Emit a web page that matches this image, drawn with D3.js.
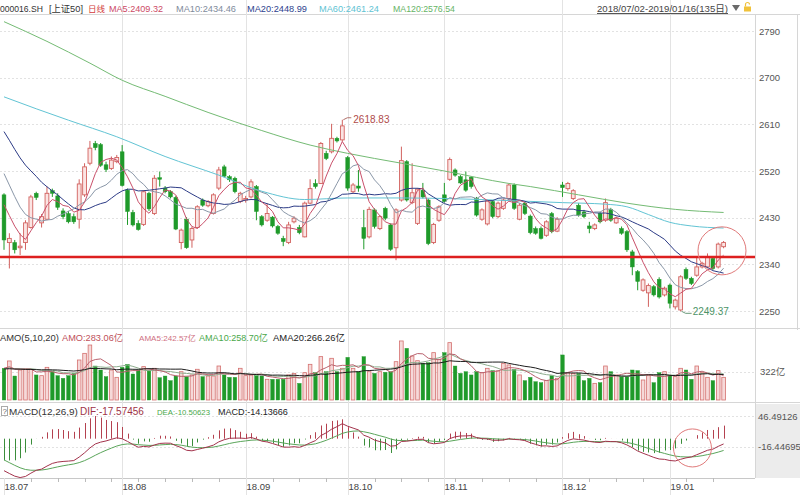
<!DOCTYPE html>
<html>
<head>
<meta charset="utf-8">
<script src="https://cdn.jsdelivr.net/npm/d3@7"></script>
<style>
  body { margin: 0; background: #fff; }
  svg { display: block; font-family: "Liberation Sans", "Noto Sans CJK SC", sans-serif; }
</style>
</head>
<body>
<svg id="chart" width="800" height="495"></svg>
<script>
// ---- data (000016.SH daily, 2018/07/02 - 2019/01/16) ----
const opens = [2474,2382,2382,2372,2382,2411,2477,2420,2427,2482,2472,2443,2438,2432,2427,2474,2535,2573,2571,2532,
  2525,2538,2557,2483,2440,2419,2417,2477,2438,2507,2487,2480,2469,2382,2427,2387,2411,2464,2453,2438,
  2487,2528,2509,2506,2461,2464,2470,2490,2432,2425,2431,2413,2390,2382,2422,2411,2393,2458,2496,2496,
  2554,2557,2583,2580,2546,2480,2491,2411,2393,2445,2409,2448,2416,2372,2464,2538,2459,2419,2483,2464,
  2382,2425,2474,2504,2522,2509,2503,2508,2467,2427,2418,2461,2432,2448,2467,2493,2427,2458,2433,2409,
  2409,2396,2438,2404,2493,2486,2467,2454,2441,2414,2409,2438,2425,2446,2420,2409,2403,2364,2326,2290,
  2285,2297,2311,2281,2300,2258,2252,2330,2313,2319,2335,2335,2351,2335,2374];
const highs = [2477,2400,2387,2400,2425,2474,2480,2437,2490,2486,2477,2448,2443,2438,2504,2535,2578,2578,2574,2538,
  2548,2551,2570,2486,2445,2425,2483,2480,2512,2519,2491,2483,2472,2409,2431,2413,2454,2467,2464,2477,
  2528,2532,2512,2509,2480,2472,2504,2493,2435,2458,2433,2416,2395,2422,2433,2416,2461,2504,2504,2576,
  2559,2611,2586,2618.83,2549,2497,2522,2445,2451,2448,2435,2451,2419,2448,2567,2541,2535,2487,2497,2467,
  2420,2454,2497,2546,2525,2512,2519,2510,2470,2448,2465,2464,2461,2467,2496,2496,2458,2461,2436,2413,
  2413,2425,2441,2431,2499,2499,2485,2458,2445,2422,2419,2441,2467,2449,2432,2413,2406,2368,2329,2313,
  2303,2300,2315,2297,2303,2274,2319,2334,2316,2356,2345,2361,2355,2382,2385];
const lows = [2368,2332,2361,2358,2368,2409,2464,2411,2425,2470,2445,2427,2419,2418,2409,2470,2531,2560,2528,2518,
  2522,2535,2490,2416,2413,2405,2414,2443,2435,2490,2477,2467,2406,2369,2370,2372,2409,2451,2450,2436,
  2483,2508,2499,2477,2458,2459,2467,2425,2413,2422,2411,2397,2375,2379,2419,2398,2392,2456,2486,2495,
  2541,2554,2575,2577,2482,2477,2480,2369,2390,2409,2406,2425,2366,2348,2461,2461,2456,2416,2467,2377,
  2379,2422,2458,2501,2509,2495,2480,2486,2432,2424,2415,2429,2429,2445,2464,2445,2425,2435,2398,2397,
  2388,2393,2400,2402,2470,2482,2464,2432,2429,2400,2406,2419,2422,2422,2418,2397,2364,2319,2290,2287,
  2258,2278,2274,2278,2255,2253,2249.37,2310,2300,2316,2332,2332,2329,2332,2371];
const closes = [2387,2390,2368,2375,2420,2470,2469,2432,2477,2477,2450,2432,2422,2422,2495,2528,2564,2565,2531,2523,
  2541,2546,2492,2442,2416,2407,2480,2447,2506,2504,2480,2470,2408,2406,2372,2409,2451,2454,2461,2474,
  2522,2510,2503,2480,2477,2467,2499,2442,2416,2438,2414,2400,2384,2416,2429,2401,2458,2486,2490,2573,
  2544,2583,2578,2607,2487,2493,2487,2390,2446,2413,2432,2429,2369,2445,2540,2464,2478,2485,2470,2380,
  2417,2451,2461,2542,2512,2497,2483,2490,2435,2445,2462,2432,2458,2464,2493,2448,2454,2438,2401,2400,
  2390,2422,2403,2427,2488,2496,2482,2435,2432,2409,2416,2422,2459,2425,2429,2400,2368,2335,2307,2310,
  2299,2281,2277,2294,2265,2271,2316,2313,2303,2335,2342,2353,2332,2379,2382];
// turnover, 亿
const volumes = [358,441,271,339,347,347,283,275,369,320,275,245,275,301,452,527,621,384,339,264,
  339,256,369,403,294,339,377,332,358,252,271,219,271,320,264,283,347,264,271,271,
  384,283,256,256,358,275,283,275,271,234,234,234,234,283,301,188,309,403,309,490,
  320,471,320,358,482,358,320,490,320,301,320,313,320,433,667,584,497,444,414,422,
  535,460,535,648,384,301,320,283,320,309,358,332,328,414,396,347,283,219,256,207,
  196,219,275,245,509,309,301,301,219,245,188,196,384,320,283,264,264,339,332,226,
  275,196,309,320,283,264,358,339,234,384,309,256,219,332,256];
// sessions before the window, needed by the moving averages
const preCloses = [2725,2718,2705,2700,2690,2680,2660,2650,2640,2602,2612,2590,2578,2560,2535,2495,2470,2455,2468];
const preVolumes = [380,360,340,420,350,330,310,360,340,300,330,350,380,340,320,360,400,350,330];
const macdInit = { ema12: 2548, ema26: 2605, dea: -38 };
// long averages read at sample sessions [index, value]
const ma60Pts = [[0,2663],[6,2640],[12,2618],[21,2586],[30,2548],[40,2512],[48,2481],[56,2465],[64,2468],[74,2468],
  [82,2467],[94,2463],[104,2459],[112,2456],[116,2451],[120,2436],[124,2421],[128,2414],[134,2410]];
const ma120Pts = [[0,2808],[8,2770],[16,2728],[22,2695],[30,2664],[38,2633],[48,2598],[57,2570],[64,2554],[74,2535],
  [82,2520],[94,2496],[98,2490],[107,2474],[116,2458],[125,2446],[134,2440]];

const priceTicks = [2250, 2340, 2430, 2520, 2610, 2700, 2790];
const volTicks = [322];
const macdTicks = [46.49126, -16.44695];
const monthStarts = [0, 22, 45, 64, 82, 104, 124];
const monthLabels = ['18.07', '18.08', '18.09', '18.10', '18.11', '18.12', '19.01'];
const weekStarts = [5,10,15,20,25,30,35,40,50,55,60,69,74,79,84,89,94,99,109,114,119,127,132];
const supportLevel = 2354;
const priceCircle = { index: 133.7, value: 2366, r: 24 };
const macdCircle = { index: 128.2, value: -19, r: 19 };

const header = ['000016.SH', '[上证50]', '日线', 'MA5:2409.32', 'MA10:2434.46', 'MA20:2448.99', 'MA60:2461.24', 'MA120:2576.54'];
const rangeText = '2018/07/02-2019/01/16(135日)';
const volHeader = ['AMO(5,10,20)', 'AMO:283.06亿', 'AMA5:242.57亿', 'AMA10:258.70亿', 'AMA20:266.26亿'];
const macdHeader = ['MACD(12,26,9)', 'DIF:-17.57456', 'DEA:-10.50623', 'MACD:-14.13666'];

// ---- derived series ----
const N = closes.length;
function sma(pre, vals, n) {
  const all = pre.concat(vals);
  return d3.range(N).map(i => d3.mean(all.slice(pre.length + i - n + 1, pre.length + i + 1)));
}
const ma5 = sma(preCloses, closes, 5), ma10 = sma(preCloses, closes, 10), ma20 = sma(preCloses, closes, 20);
const ama5 = sma(preVolumes, volumes, 5), ama10 = sma(preVolumes, volumes, 10), ama20 = sma(preVolumes, volumes, 20);
const dif = [], dea = [], macdBar = [];
{
  let e12 = macdInit.ema12, e26 = macdInit.ema26, d9 = macdInit.dea;
  closes.forEach(c => {
    e12 += (c - e12) * 2 / 13;
    e26 += (c - e26) * 2 / 27;
    const d = e12 - e26;
    d9 += (d - d9) * 0.2;
    dif.push(d); dea.push(d9); macdBar.push(2 * (d - d9));
  });
}

// ---- layout ----
const svg = d3.select('#chart');
const plotR = 755;
const x = d3.scaleLinear().domain([0, N - 1]).range([4, 723.6]);
const yP = d3.scaleLinear().domain([2250, 2790]).range([311, 31]);
const yV = d3.scaleLinear().domain([0, 322]).range([400, 371.5]);
const yM = d3.scaleLinear().domain([-16.44695, 46.49126]).range([446.7, 416]);

const RED = '#d2625f', RED_FILL = '#fbe4e3', GREEN = '#1f9a2a';
const up = i => closes[i] >= opens[i];

// panels / frames
svg.append('rect').attr('x', plotR).attr('y', 404).attr('width', 45).attr('height', 74).attr('fill', '#ececec');
const frame = svg.append('g').attr('stroke', '#d6d6d6').attr('stroke-width', 1);
[14.5, 328.5, 402.5].forEach(yy => frame.append('line').attr('x1', 0).attr('x2', 800).attr('y1', yy).attr('y2', yy));
frame.append('line').attr('x1', 0).attr('x2', plotR).attr('y1', 478.5).attr('y2', 478.5).attr('stroke', '#c8c8c8');
frame.append('line').attr('x1', plotR + 0.5).attr('x2', plotR + 0.5).attr('y1', 14).attr('y2', 478);
frame.append('line').attr('x1', 797.5).attr('x2', 797.5).attr('y1', 14).attr('y2', 330);

// month separators and week ticks
const grid = svg.append('g').attr('stroke', '#e3e3e3');
monthStarts.forEach(i => {
  const xx = Math.round(x(i)) + 0.5;
  grid.append('line').attr('x1', xx).attr('x2', xx).attr('y1', i === 0 ? 478 : 0).attr('y2', 495);
});
weekStarts.forEach(i => {
  const xx = Math.round(x(i)) + 0.5;
  grid.append('line').attr('x1', xx).attr('x2', xx).attr('y1', 478).attr('y2', 482).attr('stroke', '#bbb');
});
svg.append('g').selectAll('text').data(monthStarts).join('text')
  .attr('x', i => Math.round(x(i)) + 0.5).attr('y', 490)
  .attr('font-size', 9.5).attr('fill', '#444').text((d, k) => monthLabels[k]);

// horizontal grids
const hgrid = svg.append('g').attr('stroke', '#e2e2e2').attr('stroke-dasharray', '2,2');
priceTicks.forEach(v => hgrid.append('line').attr('x1', 0).attr('x2', plotR).attr('y1', Math.round(yP(v)) + 0.5).attr('y2', Math.round(yP(v)) + 0.5));
volTicks.forEach(v => hgrid.append('line').attr('x1', 0).attr('x2', plotR).attr('y1', Math.round(yV(v)) + 0.5).attr('y2', Math.round(yV(v)) + 0.5));
macdTicks.forEach(v => hgrid.append('line').attr('x1', 0).attr('x2', plotR).attr('y1', Math.round(yM(v)) + 0.5).attr('y2', Math.round(yM(v)) + 0.5));

// axis labels
const axisText = svg.append('g').attr('font-size', 9.5).attr('fill', '#555').attr('dominant-baseline', 'central');
priceTicks.forEach(v => axisText.append('text').attr('x', 759).attr('y', yP(v)).text(v));
volTicks.forEach(v => axisText.append('text').attr('x', 760).attr('y', yV(v)).text(v + '亿'));
macdTicks.forEach(v => axisText.append('text').attr('x', 758).attr('y', yM(v)).text(v.toFixed(5)));

// ---- price panel ----
const bw = 3.8;
const cg = svg.append('g');
d3.range(N).forEach(i => {
  const col = up(i) ? RED : GREEN;
  const cx = x(i);
  cg.append('line').attr('x1', cx).attr('x2', cx).attr('y1', yP(highs[i])).attr('y2', yP(lows[i]))
    .attr('stroke', col).attr('stroke-width', 1);
  const top = yP(Math.max(opens[i], closes[i])), bot = yP(Math.min(opens[i], closes[i]));
  cg.append('rect').attr('x', cx - bw / 2).attr('y', top).attr('width', bw).attr('height', Math.max(1, bot - top))
    .attr('fill', up(i) ? RED_FILL : GREEN).attr('stroke', col).attr('stroke-width', up(i) ? 0.9 : 0.5);
});

const line = d3.line().x((d, i) => x(i)).y(d => yP(d));
const ptLine = d3.line().x(d => x(d[0])).y(d => yP(d[1])).curve(d3.curveMonotoneX);
const maG = svg.append('g').attr('fill', 'none').attr('stroke-width', 1);
maG.append('path').attr('d', ptLine(ma120Pts)).attr('stroke', '#74bb74');
maG.append('path').attr('d', ptLine(ma60Pts)).attr('stroke', '#62c4d4');
maG.append('path').attr('d', line(ma20)).attr('stroke', '#2c3b86');
maG.append('path').attr('d', line(ma10)).attr('stroke', '#8a97a8');
maG.append('path').attr('d', line(ma5)).attr('stroke', '#c9506a');

// support line and annotations
svg.append('line').attr('x1', 0).attr('x2', plotR).attr('y1', yP(supportLevel)).attr('y2', yP(supportLevel))
  .attr('stroke', '#dd1f1f').attr('stroke-width', 2.6);
svg.append('circle').attr('cx', x(priceCircle.index)).attr('cy', yP(priceCircle.value)).attr('r', priceCircle.r)
  .attr('fill', 'none').attr('stroke', '#e07a7a').attr('stroke-width', 1);

const hiI = d3.maxIndex(highs), loI = d3.minIndex(lows);
svg.append('path').attr('d', `M${x(hiI) + 1},${yP(highs[hiI])} l4,-2 l4,0`).attr('fill', 'none').attr('stroke', '#b0706a');
svg.append('text').attr('x', x(hiI) + 11).attr('y', yP(highs[hiI]) + 3.5).attr('font-size', 10).attr('fill', '#b04c4a')
  .text(highs[hiI].toFixed(2));
svg.append('path').attr('d', `M${x(loI) + 1},${yP(lows[loI])} l4,2 l6,0`).attr('fill', 'none').attr('stroke', '#6a9a7a');
svg.append('text').attr('x', x(loI) + 12).attr('y', yP(lows[loI]) + 3.5).attr('font-size', 10).attr('fill', '#4d9467')
  .text(lows[loI].toFixed(2));

// ---- volume panel ----
const vg = svg.append('g');
d3.range(N).forEach(i => {
  const top = yV(volumes[i]);
  vg.append('rect').attr('x', x(i) - 1.8).attr('y', top).attr('width', 3.6).attr('height', yV(0) - top)
    .attr('fill', up(i) ? '#f6d9d9' : GREEN).attr('stroke', up(i) ? '#d4716f' : GREEN).attr('stroke-width', up(i) ? 0.8 : 0.4);
});
const vline = d3.line().x((d, i) => x(i)).y(d => yV(d));
const amaG = svg.append('g').attr('fill', 'none').attr('stroke-width', 1);
amaG.append('path').attr('d', vline(ama10)).attr('stroke', '#8fae8f');
amaG.append('path').attr('d', vline(ama5)).attr('stroke', '#b9626e');
amaG.append('path').attr('d', vline(ama20)).attr('stroke', '#1d1d1d');

// ---- MACD panel ----
const mg = svg.append('g').attr('stroke-width', 1);
d3.range(N).forEach(i => {
  mg.append('line').attr('x1', Math.round(x(i)) + 0.5).attr('x2', Math.round(x(i)) + 0.5)
    .attr('y1', yM(0)).attr('y2', yM(macdBar[i]))
    .attr('stroke', macdBar[i] >= 0 ? '#b4414f' : '#3b8d3b');
});
const mline = d3.line().x((d, i) => x(i)).y(d => yM(d));
mg.append('path').attr('d', mline(dea)).attr('fill', 'none').attr('stroke', '#5aa55a');
mg.append('path').attr('d', mline(dif)).attr('fill', 'none').attr('stroke', '#a3334c');
svg.append('circle').attr('cx', x(macdCircle.index)).attr('cy', yM(macdCircle.value)).attr('r', macdCircle.r)
  .attr('fill', 'none').attr('stroke', '#e07a7a').attr('stroke-width', 1);

// ---- header texts: font size fitted so each label spans its width in the picture ----
function textRow(items, xs, widths, colors, yy, maxFs) {
  const g = svg.append('g');
  items.forEach((t, k) => {
    const el = g.append('text').attr('x', xs[k]).attr('y', yy).attr('fill', colors[k]).attr('font-size', 10).text(t);
    const len = el.node().getComputedTextLength();
    el.attr('font-size', Math.min(maxFs, 10 * widths[k] / len).toFixed(2));
  });
}
textRow(header, [0, 49, 88, 109, 176, 247, 319, 393], [43, 34, 17, 54, 60, 60, 60, 62],
  ['#333', '#333', '#d23a3a', '#cc4a66', '#7f8c9c', '#2d3f8e', '#5fc3d3', '#66b466'], 11.5, 10);
textRow([rangeText], [597], [131], ['#444'], 11.5, 10);
svg.append('line').attr('x1', 597).attr('x2', 728).attr('y1', 13.5).attr('y2', 13.5).attr('stroke', '#555');
svg.append('path').attr('d', 'M732,5 L740,5 L736,11 Z').attr('fill', '#6a6a6a');
svg.append('rect').attr('x', 744).attr('y', 6.5).attr('width', 7).attr('height', 5).attr('fill', '#f0c23a');
svg.append('path').attr('d', 'M745.5,6.5 v-2 a2,2 0 0 1 4,0').attr('fill', 'none').attr('stroke', '#f0c23a').attr('stroke-width', 1.2);

textRow(volHeader, [0, 62, 139, 199, 273], [59, 61, 57, 69, 72],
  ['#333', '#c0505a', '#cf6f7f', '#4aa84a', '#222'], 340.5, 10);

svg.append('rect').attr('x', 1.5).attr('y', 406.5).attr('width', 6).attr('height', 9).attr('fill', '#fff').attr('stroke', '#aaa');
svg.append('text').attr('x', 2.6).attr('y', 414).attr('font-size', 8).attr('fill', '#666').text('?');
textRow(macdHeader, [9, 80, 157, 218], [69, 70, 53, 70], ['#333', '#9e3346', '#4aa84a', '#222'], 415, 10);
</script>
</body>
</html>
